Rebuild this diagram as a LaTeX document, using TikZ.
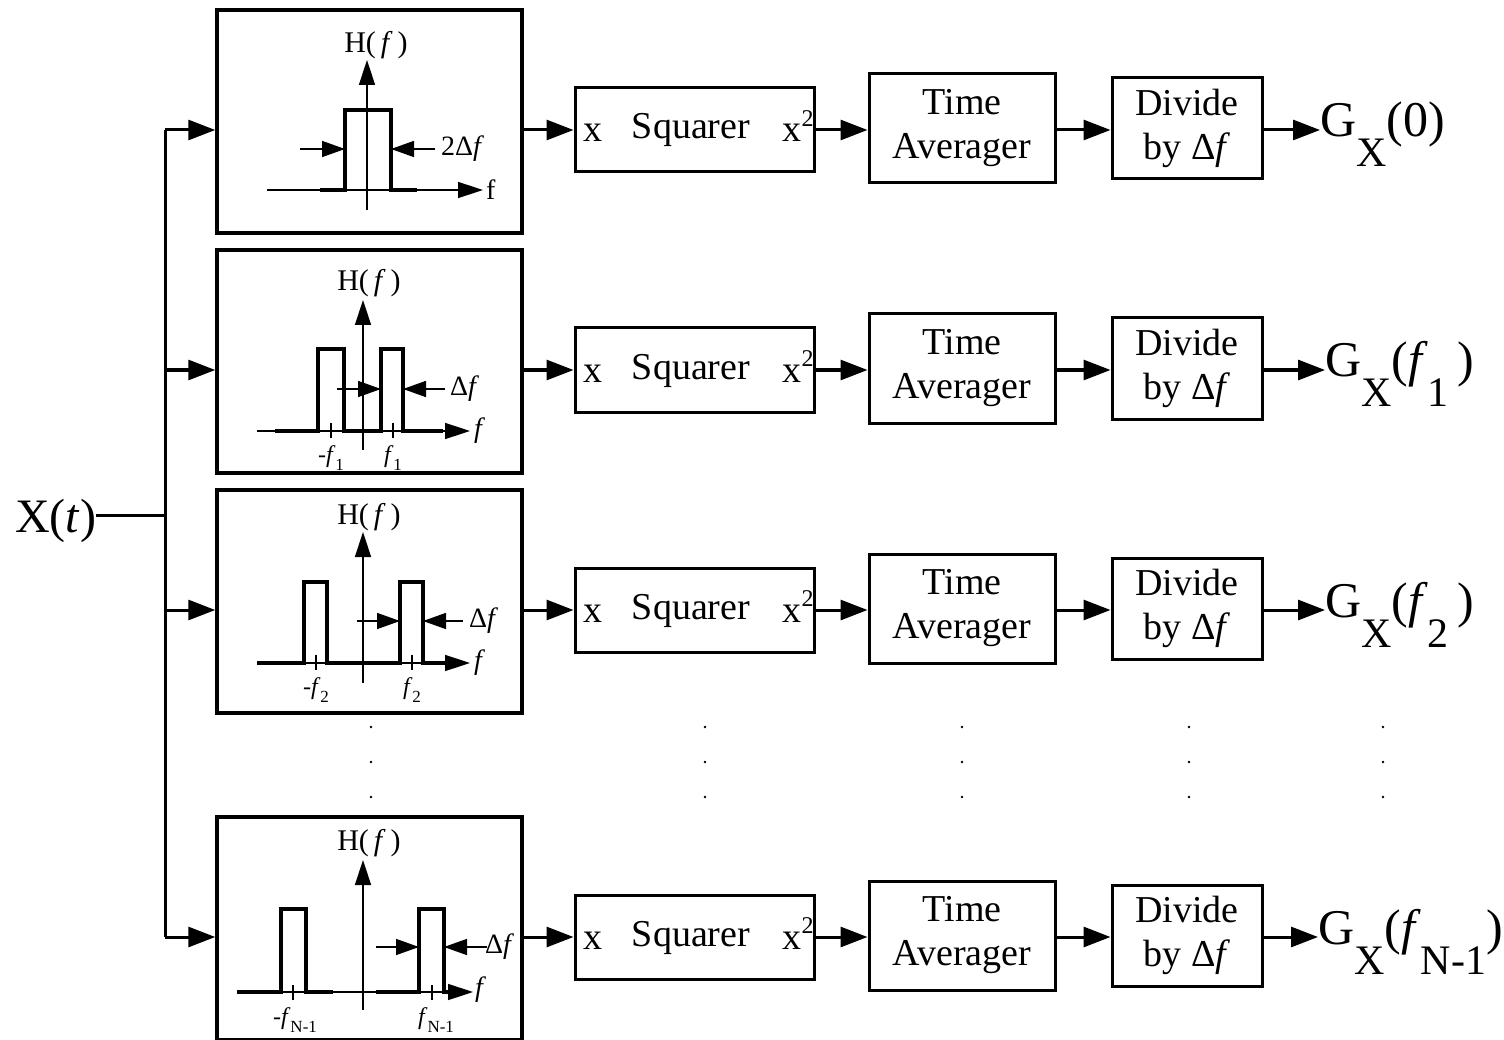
\documentclass[tikz,border=0pt]{standalone}
\usepackage{fontspec}
\setmainfont{Liberation Serif}
\usetikzlibrary{arrows.meta}
\newcommand\fs[1]{\fontsize{#1}{#1}\selectfont}
\newcommand\tsub[1]{\raisebox{-0.3em}{\fs{17}#1}}
\newcommand\gsub[1]{\raisebox{-0.6em}{\fs{42}#1}}
\tikzset{
  fbox/.style={draw, line width=3.5pt, minimum width=305pt, minimum height=223pt, inner sep=0pt},
  box/.style={draw, line width=3pt, inner sep=0pt, align=center, font=\fontsize{38}{44}\selectfont},
  txt/.style={inner sep=0pt, anchor=base, font=\fs{38}},
  conn/.style={line width=3pt, -{Triangle[length=27pt,width=20pt]}},
  wire/.style={line width=3pt},
  ax/.style={line width=1.5pt},
  axarr/.style={line width=1.5pt, -{Triangle[length=25pt,width=16pt]}},
  pass/.style={line width=3.5pt, line join=miter},
  dimarr/.style={line width=1.5pt, -{Triangle[length=23pt,width=16pt]}},
  hl/.style={inner sep=0pt, font=\fs{30}},
  sl/.style={inner sep=0pt, anchor=west, font=\fs{28}},
  tl/.style={inner sep=0pt, font=\fs{24}},
  gl/.style={inner sep=0pt, anchor=base west, font=\fs{50}},
  dotm/.style={fill=black}
}
\begin{document}
\begin{tikzpicture}[x=1pt,y=-1pt]
\useasboundingbox (0,0) rectangle (1504,1040);
\fill[white] (0,0) rectangle (1504,1040);

% input
\node[inner sep=0pt, anchor=base west, font=\fs{48}] (xt) at (15,532) {X(\textit{t})};
\coordinate (busin) at (165,515);
\draw[wire] (xt.east |- busin) -- (busin);

\foreach \i/\y in {1/130,2/370,3/610,4/937}{
  \node[fbox] (f\i) at (369.5,\y-8.5) {};
  \node[box, minimum width=239pt, minimum height=84pt] (s\i) at (694.5,\y) {};
  \node[txt] (sx\i) at (593,\y+12) {x};
  \node[txt] (sq\i) at (691,\y+9) {Squarer};
  \node[txt] (sy\i) at (798,\y+12) {x\raisebox{0.42em}{\fs{24}2}};
  \node[box, minimum width=186pt, minimum height=109pt] (a\i) at (962,\y-1.5) {Time\\Averager};
  \node[box, minimum width=150pt, minimum height=101pt] (d\i) at (1187,\y-1.5) {Divide\\by Δ\textit{f}};
  \coordinate (b\i) at (165,\y);
  \draw[conn] (b\i) -- (f\i.west |- b\i);
  \draw[conn] (f\i.east |- s\i) -- (s\i.west);
  \draw[conn] (s\i.east) -- (a\i.west |- s\i);
  \draw[conn] (a\i.east |- s\i) -- (d\i.west |- s\i);
}
\draw[wire] (b1) -- (b4);

% outputs
\node[gl] (g1) at (1320,137) {G\gsub{X}(0)};
\node[gl] (g2) at (1325,377) {G\gsub{X}(\textit{f}\gsub{1}\,)};
\node[gl] (g3) at (1325,617) {G\gsub{X}(\textit{f}\gsub{2}\,)};
\node[gl] (g4) at (1318,944) {G\gsub{X}(\textit{f}\gsub{N-1})};
\draw[conn] (d1.east |- s1) -- (g1.west |- s1);
\draw[conn] (d2.east |- s2) -- (g2.west |- s2);
\draw[conn] (d3.east |- s3) -- (g3.west |- s3);
\draw[conn] (d4.east |- s4) -- (g4.west |- s4);

% dots
\foreach \x in {371,705,962,1189,1383}{
  \foreach \yy in {727,762,797}{
    \fill[dotm] (\x,\yy) circle (1.3);
  }
}

% ---- filter 1 ----
\draw[axarr] (367,210) -- (367,60);
\node[hl] (h1) at (376,45) {H(\,\textit{f}\,)};
\draw[axarr] (267,190) -- (483,190);
\node[sl] (fl1) at (486,190) {f};
\draw[pass] (320,190) -- (345,190) -- (345,110) -- (391,110) -- (391,190) -- (417,190);
\draw[dimarr] (300,149) -- (345,149);
\draw[dimarr] (435,149) -- (391,149);
\node[sl] (w1) at (441,149) {2Δ\textit{f}};

% ---- filter 2 ----
\draw[axarr] (363,450) -- (363,300);
\node[hl] (h2) at (369,283) {H(\,\textit{f}\,)};
\draw[axarr] (257,431) -- (470,431);
\node[sl] (fl2) at (474,431) {\textit{f}};
\draw[pass] (275,431) -- (318,431) -- (318,349) -- (344,349) -- (344,431) -- (381,431) -- (381,349) -- (403,349) -- (403,431) -- (443,431);
\draw[ax] (331,423) -- (331,438);
\draw[ax] (393,423) -- (393,438);
\node[tl] (t2a) at (331,458) {-\textit{f}\tsub{1}};
\node[tl] (t2b) at (393,458) {\textit{f}\tsub{1}};
\draw[dimarr] (337,389) -- (381,389);
\draw[dimarr] (445,389) -- (403,389);
\node[sl] (w2) at (450,389) {Δ\textit{f}};

% ---- filter 3 ----
\draw[axarr] (363,683) -- (363,532);
\node[hl] (h3) at (369,517) {H(\,\textit{f}\,)};
\draw[axarr] (257,663) -- (470,663);
\node[sl] (fl3) at (474,663) {\textit{f}};
\draw[pass] (257,663) -- (304,663) -- (304,582) -- (327,582) -- (327,663) -- (400,663) -- (400,582) -- (423,582) -- (423,663) -- (445,663);
\draw[ax] (316,655) -- (316,670);
\draw[ax] (412,655) -- (412,670);
\node[tl] (t3a) at (316,690) {-\textit{f}\tsub{2}};
\node[tl] (t3b) at (412,690) {\textit{f}\tsub{2}};
\draw[dimarr] (357,621) -- (400,621);
\draw[dimarr] (463,621) -- (423,621);
\node[sl] (w3) at (469,621) {Δ\textit{f}};

% ---- filter 4 ----
\draw[axarr] (363,1010) -- (363,860);
\node[hl] (h4) at (369,843) {H(\,\textit{f}\,)};
\draw[axarr] (237,992) -- (473,992);
\node[sl] (fl4) at (475,990) {\textit{f}};
\draw[pass] (237,992) -- (281,992) -- (281,909) -- (306,909) -- (306,992) -- (333,992);
\draw[pass] (376,992) -- (419,992) -- (419,909) -- (444,909) -- (444,992) -- (448,992);
\draw[ax] (293,985) -- (293,1000);
\draw[ax] (432,985) -- (432,1000);
\node[tl] (t4a) at (295,1020) {-\textit{f}\tsub{N-1}};
\node[tl] (t4b) at (436,1020) {\textit{f}\tsub{N-1}};
\draw[dimarr] (376,947) -- (419,947);
\draw[dimarr] (487,947) -- (444,947);
\node[sl] (w4) at (485,947) {Δ\textit{f}};
\end{tikzpicture}
\end{document}
